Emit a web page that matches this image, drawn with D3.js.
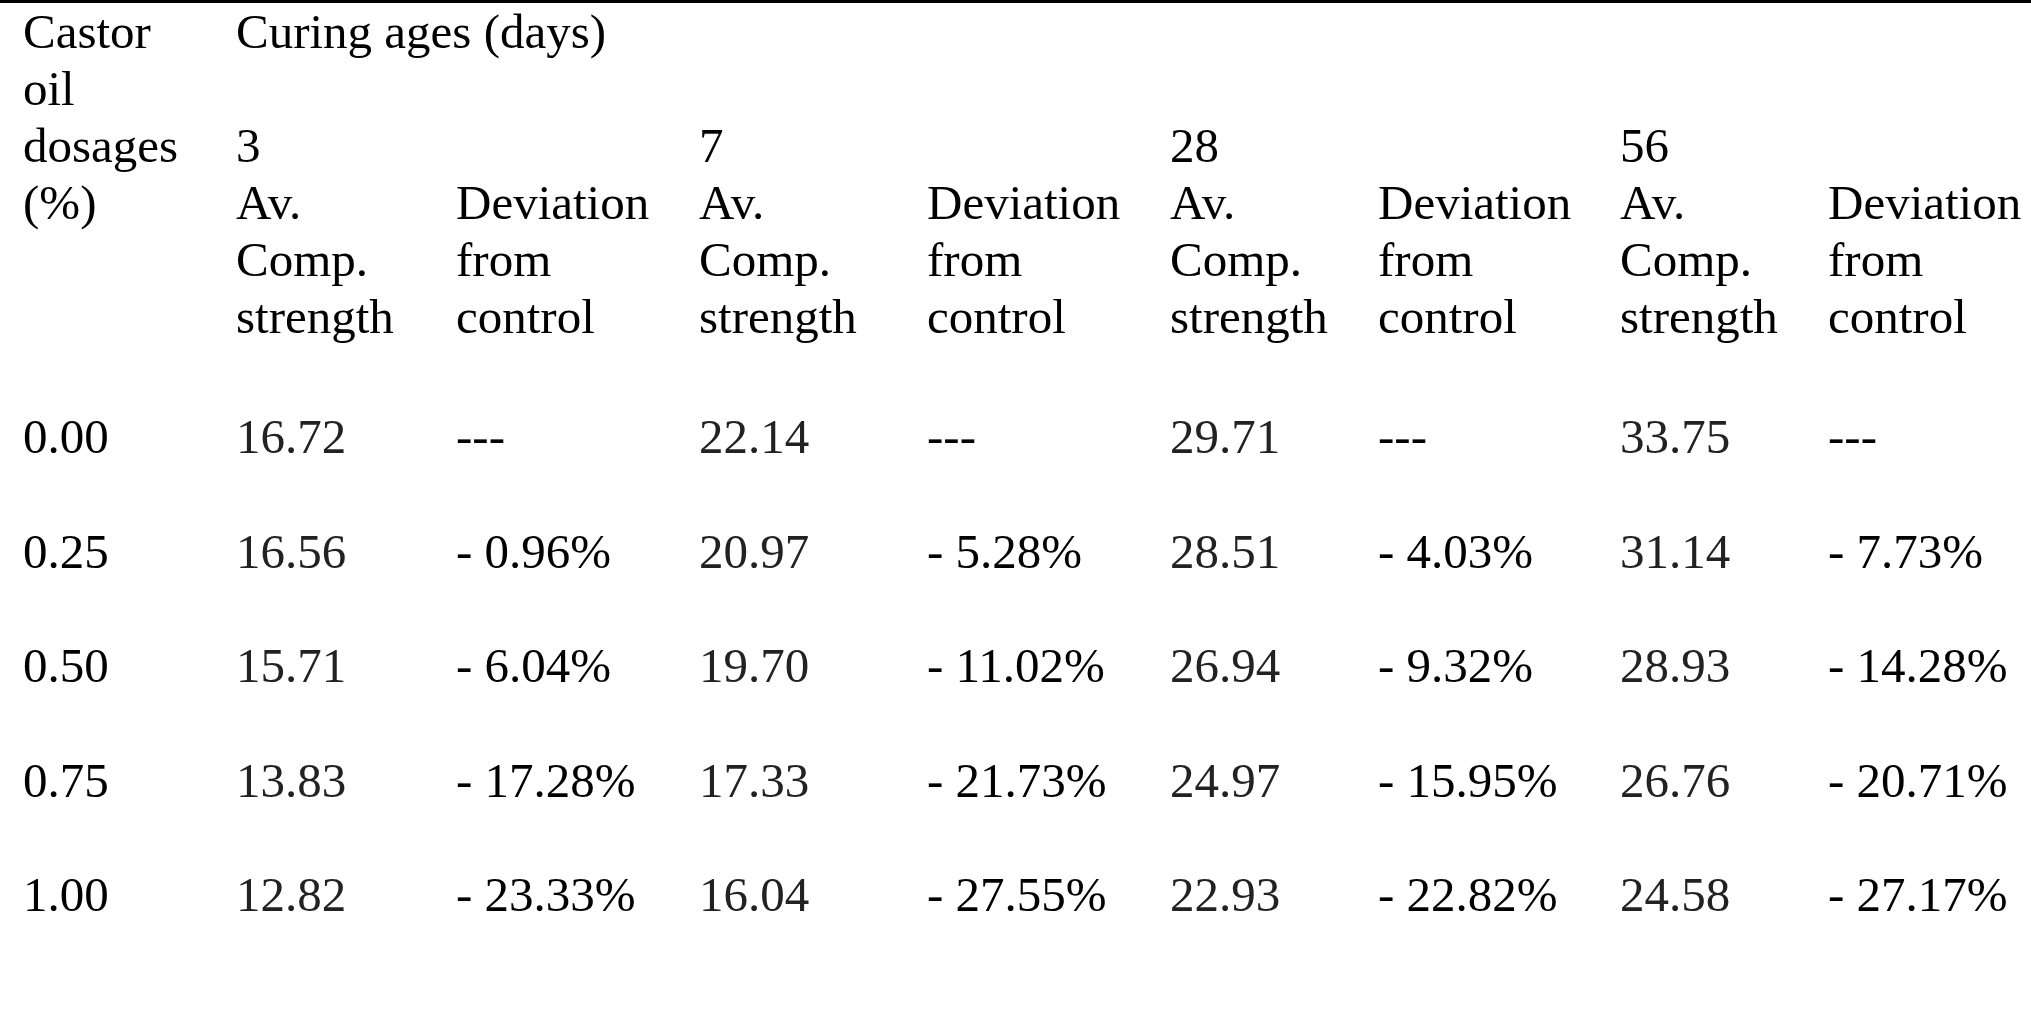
<!DOCTYPE html>
<html>
<head>
<meta charset="utf-8">
<script src="https://cdn.jsdelivr.net/npm/d3@7"></script>
<style>
  html, body { margin: 0; padding: 0; background: #fff; }
  svg text { font-family: "Liberation Serif", "Times New Roman", serif; font-size: 49px; }
</style>
</head>
<body>
<svg id="chart" width="2031" height="1009"></svg>
<script>
// table values
const dosages = ['0.00', '0.25', '0.50', '0.75', '1.00'];
const ages = ['3', '7', '28', '56'];
const strength3 = [16.72, 16.56, 15.71, 13.83, 12.82];
const strength7 = [22.14, 20.97, 19.70, 17.33, 16.04];
const strength28 = [29.71, 28.51, 26.94, 24.97, 22.93];
const strength56 = [33.75, 31.14, 28.93, 26.76, 24.58];
const deviation3 = [null, 0.96, 6.04, 17.28, 23.33];
const deviation7 = [null, 5.28, 11.02, 21.73, 27.55];
const deviation28 = [null, 4.03, 9.32, 15.95, 22.82];
const deviation56 = [null, 7.73, 14.28, 20.71, 27.17];

const strengths = [strength3, strength7, strength28, strength56];
const deviations = [deviation3, deviation7, deviation28, deviation56];

const svg = d3.select('#chart');
const W = 2031;

// top rule of the table
svg.append('rect').attr('x', 0).attr('y', 0).attr('width', W).attr('height', 3).attr('fill', '#000');

// column keys: dosage column, then a strength + deviation column per age
const colKeys = ['dose'];
ages.forEach(a => { colKeys.push('s' + a); colKeys.push('d' + a); });
const x = d3.scaleOrdinal()
  .domain(colKeys)
  .range([23, 236, 456, 699, 927, 1170, 1378, 1620, 1828]);

// header lines and data rows
const headerY = d3.scaleLinear().domain([0, 5]).range([48, 333]);
const rowY = d3.scalePoint().domain(dosages).range([453, 911]);

const head = svg.append('g').attr('class', 'header');

// first column label, wrapped like the original cell
['Castor', 'oil', 'dosages', '(%)'].forEach((t, i) => {
  head.append('text').attr('x', x('dose')).attr('y', headerY(i)).text(t);
});

head.append('text').attr('x', x('s3')).attr('y', headerY(0)).text('Curing ages (days)');

ages.forEach(a => {
  head.append('text').attr('x', x('s' + a)).attr('y', headerY(2)).text(a);
  ['Av.', 'Comp.', 'strength'].forEach((t, i) => {
    head.append('text').attr('x', x('s' + a)).attr('y', headerY(3 + i)).text(t);
  });
  ['Deviation', 'from', 'control'].forEach((t, i) => {
    head.append('text').attr('x', x('d' + a)).attr('y', headerY(3 + i)).text(t);
  });
});

// body rows
const rows = svg.append('g').attr('class', 'body')
  .selectAll('g.row')
  .data(dosages)
  .enter()
  .append('g')
  .attr('class', 'row');

rows.append('text')
  .attr('x', x('dose'))
  .attr('y', d => rowY(d))
  .attr('fill', '#000')
  .text(d => d);

ages.forEach((a, k) => {
  rows.append('text')
    .attr('x', x('s' + a))
    .attr('y', d => rowY(d))
    .attr('fill', '#222')
    .text((d, i) => strengths[k][i].toFixed(2));

  rows.append('text')
    .attr('x', x('d' + a))
    .attr('y', d => rowY(d))
    .attr('fill', '#000')
    .text((d, i) => deviations[k][i] == null ? '---' : `- ${deviations[k][i].toFixed(2)}%`);
});
</script>
</body>
</html>
